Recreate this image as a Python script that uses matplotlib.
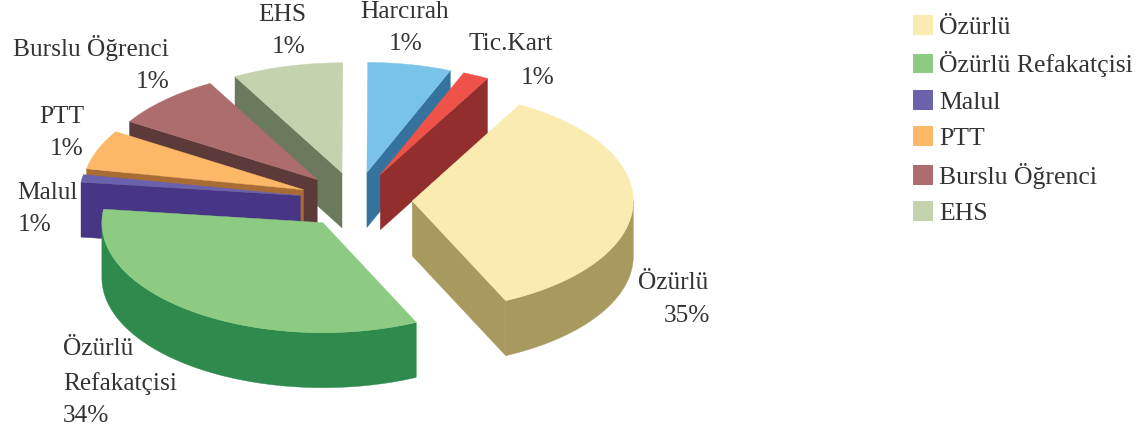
import numpy as np
import matplotlib
matplotlib.use('Agg')
import matplotlib.pyplot as plt
from matplotlib.patches import Polygon, Patch

plt.rcParams['font.family'] = ['Liberation Serif', 'DejaVu Serif']

# slice shares (the printed labels say something else)
names = ['Özürlü', 'Özürlü Refakatçisi', 'Malul', 'PTT', 'Burslu Öğrenci', 'EHS', 'Harcırah', 'Tic.Kart']
shares = [35.0, 33.9, 1.1, 5.8, 8.1, 8.1, 6.1, 1.9]
printed = ['35%', '34%', '1%', '1%', '1%', '1%', '1%', '1%']
top_colors = ['#FAEBB0', '#8DCB83', '#6A62AC', '#FCB866', '#AD6D6D', '#C4D3AE', '#7AC3E8', '#EF5248']
wall_colors = ['#A89A5E', '#2E8B4D', '#463685', '#A86C34', '#5C3A3A', '#6B7A5C', '#35739E', '#922F2E']
legend_names = names[:6]

# pie geometry in pixels
cx, cy = 356, 200
rx, ry = 221, 110
depth = 55
explode = 0.255
first_angle = 29
text_color = '#333333'
fs = 18.3

fig = plt.figure(figsize=(11.44, 4.33), dpi=100)
ax = fig.add_axes([0, 0, 1, 1])
ax.set_xlim(0, 1144)
ax.set_ylim(433, 0)
ax.axis('off')

edges = first_angle + np.cumsum([0] + shares) * 360 / sum(shares)


def arc(x0, y0, a, b, dy=0):
    t = np.radians(np.linspace(a, b, 80))
    return np.column_stack([x0 + rx * np.sin(t), y0 - ry * np.cos(t) + dy])


def draw_slice(i):
    a, b = edges[i], edges[i + 1]
    # slices past the top run on from 0 degrees
    if a >= 359.9:
        a, b = a - 360, b - 360
    mid = np.radians((a + b) / 2)
    x0 = cx + rx * explode * np.sin(mid)
    y0 = cy - ry * explode * np.cos(mid)
    tip = np.array([[x0, y0]])
    down = np.array([[x0, y0 + depth]])
    col = wall_colors[i]

    # flat side that faces the viewer
    if a > 180:
        p = arc(x0, y0, a, a + 0.001)[:1]
    elif b < 180:
        p = arc(x0, y0, b, b + 0.001)[:1]
    else:
        p = None
    if p is not None:
        wall = np.vstack([tip, p, p + [0, depth], down])
        ax.add_patch(Polygon(wall, fc=col, ec=col, lw=0.3))

    # rounded outer wall
    lo, hi = max(a, 90), min(b, 270)
    if lo < hi:
        wall = np.vstack([arc(x0, y0, lo, hi), arc(x0, y0, hi, lo, depth)])
        ax.add_patch(Polygon(wall, fc=col, ec=col, lw=0.3))

    top = np.vstack([tip, arc(x0, y0, a, b)])
    ax.add_patch(Polygon(top, fc=top_colors[i], ec=top_colors[i], lw=0.3))


# back slices first, front ones last
for i in [5, 6, 7, 4, 3, 2, 0, 1]:
    draw_slice(i)


def label(x, y, s, ha):
    ax.text(x, y, s, ha=ha, va='baseline', fontsize=fs, color=text_color)


label(708, 289, 'Özürlü', 'right')
label(710, 322, printed[0], 'right')
label(63, 355, 'Özürlü', 'left')
label(63, 390, 'Refakatçisi', 'left')
label(63, 422, printed[1], 'left')
label(17, 199, names[2], 'left')
label(18, 231, printed[2], 'left')
label(84, 123, names[3], 'right')
label(84, 155, printed[3], 'right')
label(169, 56, names[4], 'right')
label(170, 88, printed[4], 'right')
label(306, 21, names[5], 'right')
label(306, 53, printed[5], 'right')
label(405, 18, names[6], 'center')
label(406, 50, printed[6], 'center')
label(553, 50, names[7], 'right')
label(555, 84, printed[7], 'right')

# legend
handles = [Patch(fc=c, ec='none') for c in top_colors[:6]]
ax.legend(handles, legend_names, loc='upper left', bbox_to_anchor=(913 / 1144, 1 - 15 / 433),
          frameon=False, fontsize=18.5, labelcolor=text_color, borderpad=0, borderaxespad=0,
          handlelength=0.78, handleheight=0.81, handletextpad=0.23, labelspacing=0.49)

fig.savefig('out.png', dpi=100)
